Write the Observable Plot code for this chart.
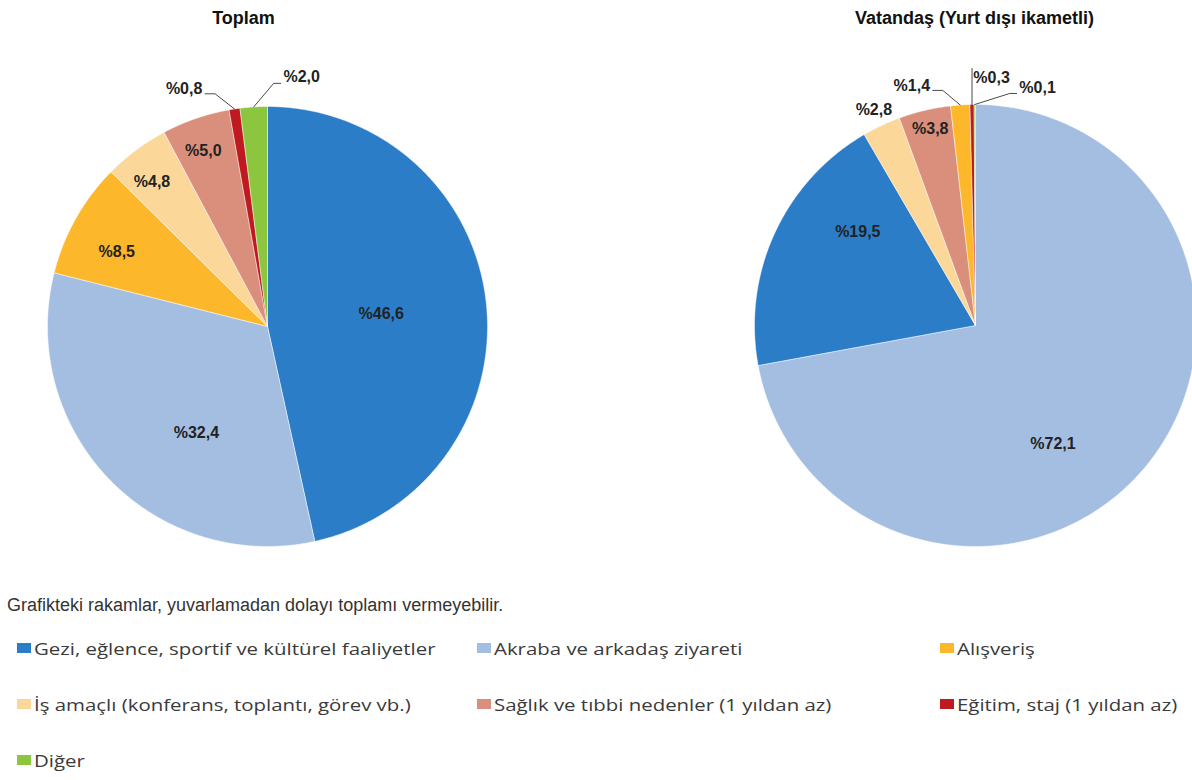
<!DOCTYPE html>
<html><head><meta charset="utf-8">
<script src="https://cdn.jsdelivr.net/npm/d3@7"></script>
<script src="https://cdn.jsdelivr.net/npm/@observablehq/plot@0.6"></script>
<style>
body{margin:0;background:#fff;font-family:"Liberation Sans",Arial,sans-serif;}
#wrap{position:relative;width:1192px;height:780px;overflow:hidden;}
#chart{position:absolute;left:0;top:0;}
#caption{position:absolute;left:7px;top:594px;font-size:18px;line-height:22px;color:#333;font-family:"Liberation Sans",Arial,sans-serif;white-space:nowrap;}
.leg{position:absolute;font-family:"Open Sans",sans-serif;font-size:17px;color:#3a3a3a;display:flex;align-items:center;white-space:nowrap;height:22px;}
.sw{width:14px;height:10px;margin-right:3px;flex:none;}
.lt{display:inline-block;transform:scaleX(1.2);transform-origin:0 50%;}
</style></head><body>
<div id="wrap"><div id="chart"></div><div id="caption"></div><div id="legend"></div></div>
<script>
// ---- data ----
const categories = [
  "Gezi, eğlence, sportif ve kültürel faaliyetler",
  "Akraba ve arkadaş ziyareti",
  "Alışveriş",
  "İş amaçlı (konferans, toplantı, görev vb.)",
  "Sağlık ve tıbbi nedenler (1 yıldan az)",
  "Eğitim, staj (1 yıldan az)",
  "Diğer"
];
const colors = ["#2B7DC7", "#A4BEE2", "#FCB72B", "#FCD79A", "#D98F7B", "#BF1A1F", "#8CC63E"];
const toplamValues   = [46.6, 32.4, 8.5, 4.8, 5.0, 0.8, 2.0];
const vatandasValues = [19.5, 72.1, 1.4, 2.8, 3.8, 0.3, 0.1];
// clockwise slice order from 12 o'clock (category indexes)
const toplamOrder   = [0, 1, 2, 3, 4, 5, 6];
const vatandasOrder = [1, 0, 3, 4, 2, 5, 6];
const pieTitles = ["Toplam", "Vatandaş (Yurt dışı ikametli)"];
const captionText = "Grafikteki rakamlar, yuvarlamadan dolayı toplamı vermeyebilir.";

// ---- layout (not data) ----
const W = 1192, H = 590;
// per category: [radius fraction, angle offset deg, leader type]
const pieLayout = [
  {cx: 267, cy: 326, r: 220, titleX: 243, titleY: 18, labels: [
    [0.52, 0, null], [0.58, -12, null], [0.765, -3, null], [0.84, -2, null],
    [0.85, -1, null], [1.145, -10.7, "left"], [1.143, 11.4, "right"]]},
  {cx: 975, cy: 325, r: 221, titleX: 974, titleY: 18, labels: [
    [0.68, 13.8, null], [0.64, 17, null], [1.124, -10.9, "left"], [1.08, 0, null],
    [0.915, 0.4, null], [1.125, 4.6, "up"], [1.113, 14.8, "right"]]}
];
const pies = [
  {title: pieTitles[0], values: toplamValues, order: toplamOrder, ...pieLayout[0]},
  {title: pieTitles[1], values: vatandasValues, order: vatandasOrder, ...pieLayout[1]}
];

const rad = d => d * Math.PI / 180;
const fmt = v => "%" + d3.format(".1f")(v).replace(".", ",");

const polys = [], labels = [], leaders = [], titles = [];
pies.forEach((p, pi) => {
  const total = d3.sum(p.values);
  let cum = 0;
  titles.push({x: p.titleX, y: p.titleY, text: p.title});
  p.order.forEach(ci => {
    const v = p.values[ci];
    const a0 = cum / total * 360, a1 = (cum + v) / total * 360;
    cum += v;
    const id = pi + "-" + ci;
    const n = Math.max(2, Math.ceil((a1 - a0) / 0.5));
    polys.push({id, cat: categories[ci], x: p.cx, y: p.cy});
    for (let k = 0; k <= n; k++) {
      const a = rad(a0 + (a1 - a0) * k / n);
      polys.push({id, cat: categories[ci], x: p.cx + p.r * Math.sin(a), y: p.cy - p.r * Math.cos(a)});
    }
    polys.push({id, cat: categories[ci], x: p.cx, y: p.cy});
    const mid = (a0 + a1) / 2;
    const [rf, off, lead] = p.labels[ci];
    const la = rad(mid + off);
    const tx = p.cx + rf * p.r * Math.sin(la), ty = p.cy - rf * p.r * Math.cos(la);
    labels.push({x: tx, y: ty, text: fmt(v)});
    if (lead) {
      const ax = p.cx + p.r * Math.sin(rad(mid)), ay = p.cy - p.r * Math.cos(rad(mid));
      const hw = 19;
      let pts;
      if (lead === "left") pts = [[tx + hw + 2, ty + 5], [tx + hw + 12, ty + 5], [ax, ay]];
      else if (lead === "right") pts = [[tx - hw - 2, ty + 6], [tx - hw - 9, ty + 6], [ax, ay]];
      else pts = [[ax, ty - 9], [ax, ay]];
      pts.forEach(([x, y]) => leaders.push({id, x, y}));
    }
  });
});

const chart = Plot.plot({
  width: W, height: H, margin: 0,
  x: {domain: [0, W], range: [0, W], axis: null},
  y: {domain: [0, H], range: [0, H], axis: null},
  color: {domain: categories, range: colors},
  style: {fontFamily: "'Liberation Sans', Arial, sans-serif", background: "white"},
  marks: [
    Plot.line(polys, {x: "x", y: "y", z: "id", fill: "cat", stroke: "white", strokeWidth: 0.6, strokeOpacity: 0.8}),
    Plot.line(leaders, {x: "x", y: "y", z: "id", stroke: "#4a4a4a", strokeWidth: 1}),
    Plot.text(labels, {x: "x", y: "y", text: "text", fontSize: 16, fontWeight: "bold", fill: "#222"}),
    Plot.text(titles, {x: "x", y: "y", text: "text", fontSize: 18, fontWeight: "bold", fill: "#111"})
  ]
});
document.getElementById("chart").appendChild(chart);
document.getElementById("caption").textContent = captionText;

const legX = [17, 477, 940], legY = [648, 704, 760];
const leg = d3.select("#legend");
categories.forEach((c, i) => {
  const item = leg.append("div").attr("class", "leg")
    .style("left", legX[i % 3] + "px").style("top", (legY[Math.floor(i / 3)] - 11) + "px");
  item.append("div").attr("class", "sw").style("background", colors[i]);
  item.append("span").attr("class", "lt").text(c);
});
</script>
</body></html>
